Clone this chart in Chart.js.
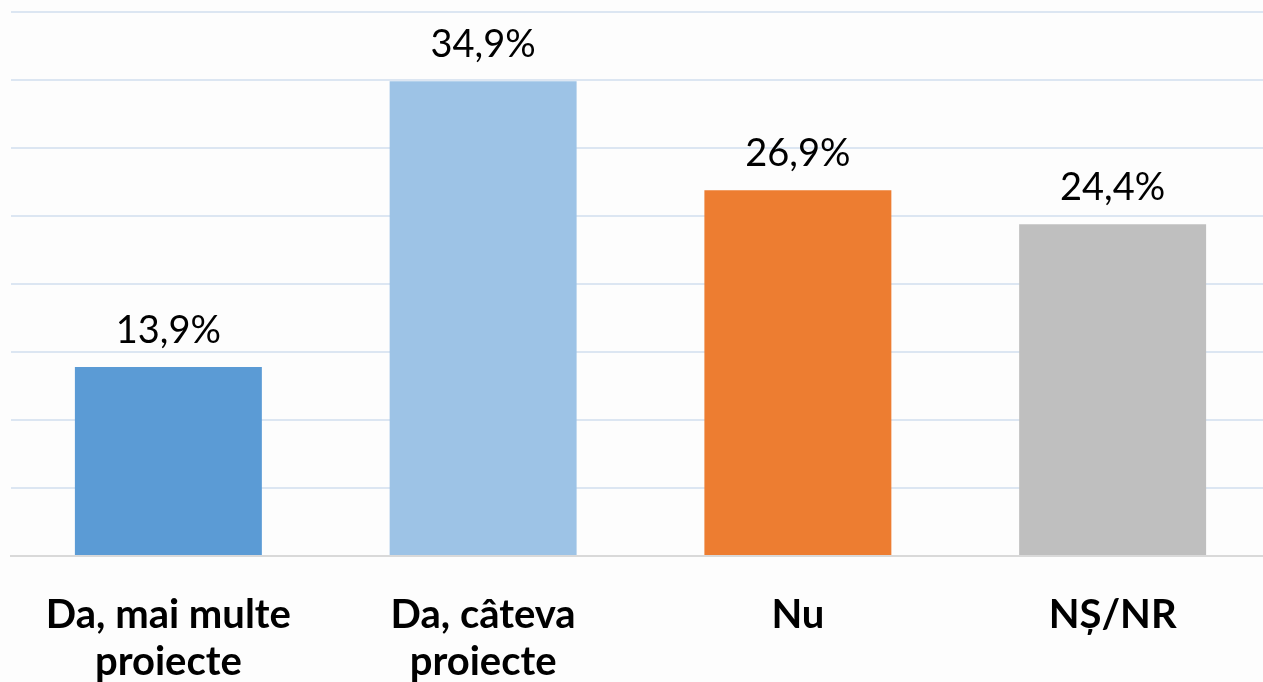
<!DOCTYPE html>
<html>
<head>
<meta charset="utf-8">
<title>Proiecte</title>
<script src="https://cdn.jsdelivr.net/npm/chart.js"></script>
<style>
  html, body { margin: 0; padding: 0; background: #fdfdfd; overflow: hidden; }
  #wrap { width: 1270px; height: 682px; position: relative; }
</style>
</head>
<body>
<div id="wrap"><canvas id="chart"></canvas></div>
<script>
const categories = [["Da, mai multe", "proiecte"], ["Da, câteva", "proiecte"], "Nu", "NȘ/NR"];
const values = [13.9, 34.9, 26.9, 24.4];
const colors = ["#5b9bd5", "#9dc3e6", "#ed7d31", "#bfbfbf"];

// value labels above each bar, comma as decimal separator
const barLabels = {
  id: "barLabels",
  afterDatasetsDraw(chart) {
    const { ctx } = chart;
    const meta = chart.getDatasetMeta(0);
    ctx.save();
    ctx.font = "38px Lato";
    ctx.fillStyle = "#000";
    ctx.textAlign = "center";
    ctx.textBaseline = "alphabetic";
    meta.data.forEach((bar, i) => {
      const txt = values[i].toFixed(1).replace(".", ",") + "%";
      ctx.fillText(txt, bar.x, bar.y - 24);
    });
    ctx.restore();
  }
};

new Chart(document.getElementById("chart"), {
  type: "bar",
  data: {
    labels: categories,
    datasets: [{
      data: values,
      backgroundColor: colors,
      barPercentage: 0.594,
      categoryPercentage: 1
    }]
  },
  options: {
    responsive: true,
    maintainAspectRatio: false,
    animation: false,
    layout: { padding: { top: 12, left: 11, right: 0, bottom: 0 } },
    plugins: { legend: { display: false }, tooltip: { enabled: false } },
    scales: {
      x: {
        grid: { display: false },
        border: { color: "#d9d9d9", width: 2 },
        ticks: {
          color: "#000",
          font: { family: "Lato", size: 40, weight: "bold", lineHeight: 1.18 },
          padding: 27,
          maxRotation: 0,
          autoSkip: false
        },
        afterFit(s) { s.height = 126; }
      },
      y: {
        min: 0,
        max: 40,
        ticks: { display: false, stepSize: 5 },
        border: { display: false },
        grid: {
          color: (c) => c.tick && c.tick.value === 0 ? "rgba(0,0,0,0)" : "#dce6f2",
          lineWidth: 2,
          drawTicks: false
        },
        afterFit(s) { s.width = 0; }
      }
    }
  },
  plugins: [barLabels]
});
</script>
</body>
</html>
